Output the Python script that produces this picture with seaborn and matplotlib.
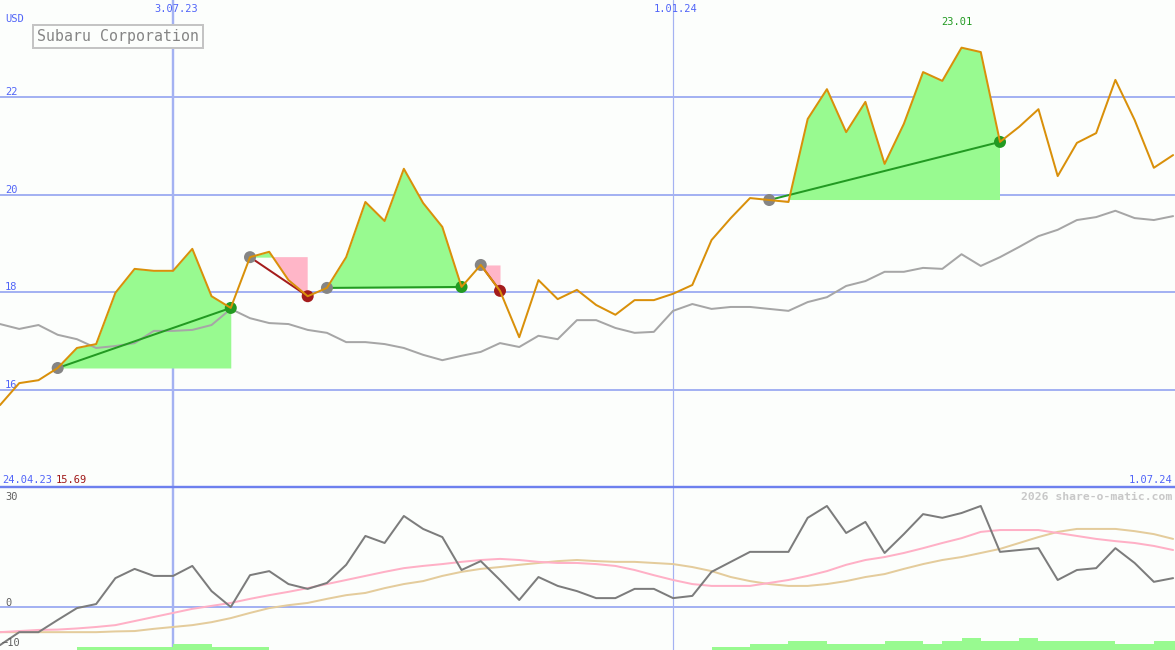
import matplotlib
matplotlib.use("Agg")
import numpy as np
import pandas as pd
import matplotlib.pyplot as plt
import matplotlib.transforms as mtrans
from matplotlib.lines import Line2D
import seaborn as sns

# ---------------- data ----------------
start_date = "2023-05-01"
weeks = list(range(62))
price = [15.69, 16.14, 16.20, 16.45, 16.86, 16.94, 17.99, 18.48, 18.44, 18.44,
         18.89, 17.92, 17.68, 18.72, 18.83, 18.25, 17.92, 18.09, 18.72, 19.85,
         19.46, 20.53, 19.83, 19.34, 18.11, 18.56, 18.03, 17.08, 18.25, 17.86,
         18.05, 17.74, 17.54, 17.84, 17.84, 17.97, 18.15, 19.07, 19.52, 19.93,
         19.89, 19.85, 21.55, 22.16, 21.28, 21.90, 20.63, 21.45, 22.51, 22.33,
         23.01, 22.92, 21.08, 21.39, 21.75, 20.38, 21.06, 21.26, 22.35, 21.53,
         20.55, 20.81]
moving_avg = [17.35, 17.25, 17.33, 17.13, 17.04, 16.86, 16.90, 16.96, 17.21, 17.21,
              17.23, 17.33, 17.66, 17.47, 17.37, 17.35, 17.23, 17.17, 16.98, 16.98,
              16.94, 16.86, 16.72, 16.61, 16.70, 16.78, 16.96, 16.88, 17.11, 17.04,
              17.43, 17.43, 17.27, 17.17, 17.19, 17.62, 17.76, 17.66, 17.70, 17.70,
              17.66, 17.62, 17.80, 17.90, 18.13, 18.23, 18.42, 18.42, 18.50, 18.48,
              18.78, 18.54, 18.72, 18.93, 19.15, 19.28, 19.48, 19.54, 19.67, 19.52,
              19.48, 19.56]
oscillator = [-10.3, -6.8, -6.8, -3.5, -0.3, 0.8, 7.8, 10.3, 8.4, 8.4,
              11.1, 4.3, 0.0, 8.6, 9.7, 6.2, 4.9, 6.5, 11.4, 19.2,
              17.3, 24.6, 21.1, 18.9, 10.0, 12.4, 7.3, 1.9, 8.1, 5.7,
              4.3, 2.4, 2.4, 4.9, 4.9, 2.4, 3.0, 9.5, 12.2, 14.9,
              14.9, 14.9, 24.1, 27.3, 20.0, 23.0, 14.6, 19.7, 25.1, 24.1,
              25.4, 27.3, 14.9, 15.4, 15.9, 7.3, 10.0, 10.5, 15.9, 11.9,
              6.8, 7.8]
signal_fast = [-6.8, -6.5, -6.2, -6.1, -5.8, -5.4, -4.9, -3.8, -2.7, -1.6,
               -0.5, 0.3, 1.1, 2.2, 3.2, 4.1, 5.1, 6.2, 7.3, 8.4,
               9.5, 10.5, 11.1, 11.6, 12.2, 12.7, 13.0, 12.7, 12.2, 11.9,
               11.9, 11.6, 11.1, 10.0, 8.6, 7.3, 6.2, 5.7, 5.7, 5.7,
               6.5, 7.3, 8.4, 9.7, 11.4, 12.7, 13.5, 14.6, 15.9, 17.3,
               18.6, 20.3, 20.8, 20.8, 20.8, 20.0, 19.2, 18.4, 17.8, 17.3,
               16.5, 15.4]
signal_slow = [-6.8, -6.8, -6.8, -6.8, -6.8, -6.8, -6.6, -6.5, -5.9, -5.4,
               -4.9, -4.1, -3.0, -1.6, -0.3, 0.5, 1.1, 2.2, 3.2, 3.8,
               5.1, 6.2, 7.0, 8.4, 9.5, 10.3, 10.8, 11.4, 11.9, 12.4,
               12.7, 12.4, 12.2, 12.2, 11.9, 11.6, 10.8, 9.7, 8.1, 7.0,
               6.2, 5.7, 5.7, 6.2, 7.0, 8.1, 8.9, 10.3, 11.6, 12.7,
               13.5, 14.6, 15.7, 17.3, 18.9, 20.3, 21.1, 21.1, 21.1, 20.5,
               19.7, 18.4]
strength = [0, 0, 0, 0, 1, 1, 1, 1, 1, 2,
            2, 1, 1, 1, 0, 0, 0, 0, 0, 0,
            0, 0, 0, 0, 0, 0, 0, 0, 0, 0,
            0, 0, 0, 0, 0, 0, 0, 1, 1, 2,
            2, 3, 3, 2, 2, 2, 3, 3, 2, 3,
            4, 3, 3, 4, 3, 3, 3, 3, 2, 2,
            3, 3]
entry_idx = [3, 13, 17, 25, 40]
exit_idx = [12, 16, 24, 26, 52]
price_ticks = [16, 18, 20, 22]
osc_ticks = ["30", "0", "-10"]
date_ticks = ["2023-07-03", "2024-01-01"]
date_tick_labels = ["3.07.23", "1.01.24"]
first_date_label = "24.04.23"
first_value_label = "15.69"
last_date_label = "1.07.24"
max_label = "23.01"
title = "Subaru Corporation"
currency = "USD"
credit = "2026 share-o-matic.com"

# ---------------- style ----------------
W, H = 1175, 650
BG = "#fcfefc"
GRID = "#a4b2f2"
SEP = "#6d80ee"
BLUE = "#5064f8"
ORANGE = "#d9900a"
MA_C = "#a6a6a6"
GFILL = "#98fa90"
PFILL = "#ffb6c8"
GREEN = "#229a22"
RED = "#a41c1c"
DOT_GRAY = "#858585"
OSC_C = "#7c7c7c"
PINK = "#ffb0c6"
TAN = "#e4cc9c"
PX = 0.72  # points per pixel

sns.set_theme(style="white")
plt.rcParams['font.family'] = ['DejaVu Sans Mono', 'DejaVu Sans']

fig = plt.figure(figsize=(W / 100, H / 100), dpi=100)
fig.patch.set_facecolor(BG)
split = 163 / H
ax = fig.add_axes([0, split, 1, 1 - split])
axb = fig.add_axes([0, 0, 1, split])
for a in (ax, axb):
    a.set_facecolor(BG)
    for s in a.spines.values():
        s.set_visible(False)
    a.set_xlim(0, 61.1)
ax.set_ylim(14.013, 23.986)
osc_lo, osc_hi = -11.62, 32.43
axb.set_ylim(osc_lo, osc_hi)

x = np.array(weeks, dtype=float)
p = np.array(price)
t0 = pd.Timestamp(start_date)
date_x = [(pd.Timestamp(d) - t0).days / 7 for d in date_ticks]
vwidths = [2.4, 1.2]

# grid
for v in price_ticks:
    ax.axhline(v, color=GRID, lw=2 * PX, zorder=0.5)
for dx, w in zip(date_x, vwidths):
    ax.axvline(dx, color=GRID, lw=w * PX, zorder=0.5)
    axb.axvline(dx, color=GRID, lw=w * PX, zorder=0.5)
axb.axhline(0, color=GRID, lw=2 * PX, zorder=0.5)
fig.add_artist(Line2D([0, 1], [split, split], transform=fig.transFigure,
                      color=SEP, lw=2.4 * PX, zorder=10))

# trade fills
for e, xi in zip(entry_idx, exit_idx):
    xs = x[e:xi + 1]
    ps = p[e:xi + 1]
    base = p[e]
    ax.fill_between(xs, base, ps, where=ps >= base, interpolate=True,
                    color=GFILL, lw=0, zorder=1)
    ax.fill_between(xs, base, ps, where=ps <= base, interpolate=True,
                    color=PFILL, lw=0, zorder=1)

# lines
sns.lineplot(x=weeks, y=moving_avg, ax=ax, color=MA_C, lw=2 * PX, zorder=2)
for e, xi in zip(entry_idx, exit_idx):
    c = GREEN if p[xi] >= p[e] else RED
    sns.lineplot(x=[x[e], x[xi]], y=[p[e], p[xi]], ax=ax, color=c,
                 lw=2 * PX, zorder=3)

# markers (below price line, as in the reference)
ms = (12 * PX) ** 2
sns.scatterplot(x=x[entry_idx], y=p[entry_idx], ax=ax, color=DOT_GRAY, s=ms,
                edgecolor="none", zorder=3.5)
exit_cols = [GREEN if p[xi] >= p[e] else RED for e, xi in zip(entry_idx, exit_idx)]
ax.scatter(x[exit_idx], p[exit_idx], c=exit_cols, s=ms, edgecolors="none", zorder=3.5)

sns.lineplot(x=weeks, y=price, ax=ax, color=ORANGE, lw=2 * PX, zorder=4)

# lower panel
bar_h = np.array(strength) * (3.0 / 3.7)
axb.bar(x, bar_h, width=1.0, align="edge", bottom=osc_lo, color=GFILL,
        lw=0, zorder=1)
sns.lineplot(x=weeks, y=signal_slow, ax=axb, color=TAN, lw=2 * PX, zorder=2)
sns.lineplot(x=weeks, y=signal_fast, ax=axb, color=PINK, lw=2 * PX, zorder=3)
sns.lineplot(x=weeks, y=oscillator, ax=axb, color=OSC_C, lw=2 * PX, zorder=4)

for a in (ax, axb):
    a.set_xlabel("")
    a.set_ylabel("")
    a.set_xticks([])
    a.set_yticks([])
    leg = a.get_legend()
    if leg:
        leg.remove()


def T(xp, yp, s, **kw):
    fig.text(xp / W, 1 - yp / H, s, **kw)


FS = 7.5
# price labels
blend = mtrans.blended_transform_factory(ax.transAxes, ax.transData)
for v in price_ticks:
    ax.annotate(str(v), xy=(0, v), xycoords=blend, xytext=(5, 2),
                textcoords="offset pixels", color=BLUE, fontsize=FS,
                va="baseline", ha="left")
T(5, 22.5, currency, color=BLUE, fontsize=FS, va="baseline", ha="left")
for dx, lab in zip(date_x, date_tick_labels):
    xp = ax.transData.transform((dx, 15))[0]
    T(xp + 3, 12.5, lab, color=BLUE, fontsize=FS, va="baseline", ha="center")
T(2, 483, first_date_label, color=BLUE, fontsize=FS, va="baseline", ha="left")
T(55.5, 483, first_value_label, color="#a01818", fontsize=FS, va="baseline", ha="left")
T(1172, 483, last_date_label, color=BLUE, fontsize=FS, va="baseline", ha="right")
imax = int(np.argmax(p))
xmax = ax.transData.transform((x[imax], p[imax]))[0]
T(xmax - 5, 25, max_label, color=GREEN, fontsize=FS, va="baseline", ha="center")

# title box
T(37, 36.5, title, color="#858585", fontsize=10.7, va="center", ha="left",
  bbox=dict(boxstyle="square,pad=0.28", fc=BG, ec="#c4c4c4", lw=2 * PX))

# lower labels
for lab, (xp, yp) in zip(osc_ticks, [(5, 499.5), (5, 605.5), (1.5, 646)]):
    T(xp, yp, lab.replace("-", "\u2212"), color="#606060", fontsize=FS,
      va="baseline", ha="left")
T(1172, 500, credit, color="#c8c8c8", fontsize=8.2, fontweight="bold",
  va="baseline", ha="right")

fig.savefig("out.png", dpi=100, facecolor=BG)
